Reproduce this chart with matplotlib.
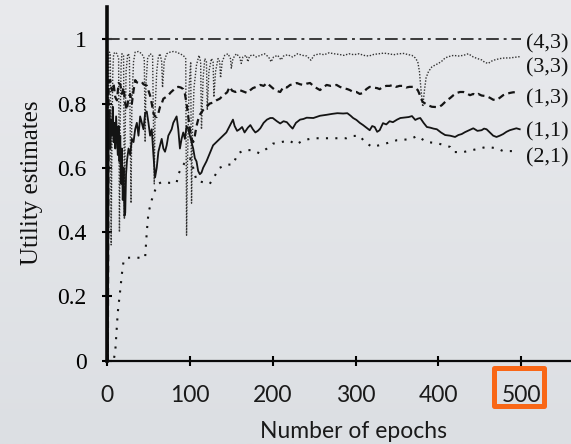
import numpy as np
import matplotlib
matplotlib.use("Agg")
import matplotlib.pyplot as plt
from matplotlib.patches import Rectangle

# ---- data ----
epochs_43 = [0, 500]
u_43 = [1.0, 1.0]

epochs_33 = [0, 1, 2, 3, 4, 5, 6, 7, 8, 10, 12, 14, 15, 16, 17, 18, 20, 21, 22, 23, 25, 27, 29, 30,
             32, 34, 38, 42, 45, 46, 47, 49, 52, 55, 57, 58, 60, 62, 64, 66, 67, 69, 72, 76, 80, 84,
             88, 92, 95, 96, 97, 99, 101, 102, 103, 105, 108, 111, 113, 114, 116, 118, 120, 121, 123,
             126, 128, 129, 131, 134, 136, 137, 139, 142, 146, 149, 150, 152, 156, 160, 162, 164, 168,
             170, 172, 176, 180, 185, 190, 195, 198, 201, 206, 210, 213, 218, 224, 230, 236, 241, 246,
             250, 256, 262, 268, 274, 280, 286, 292, 298, 304, 310, 316, 322, 328, 334, 340, 346, 352,
             358, 364, 368, 372, 375, 377, 379, 381, 383, 385, 388, 392, 396, 400, 404, 408, 412, 418,
             424, 430, 436, 442, 447, 452, 456, 460, 464, 468, 474, 480, 486, 492, 498]
u_33 = [0.0, 0.0, 0.95, 0.96, 0.955, 0.36, 0.70, 0.90, 0.955, 0.96, 0.955, 0.94, 0.40, 0.75, 0.92,
        0.955, 0.95, 0.44, 0.72, 0.90, 0.955, 0.95, 0.49, 0.80, 0.93, 0.96, 0.962, 0.955, 0.94, 0.68,
        0.86, 0.94, 0.955, 0.95, 0.55, 0.78, 0.90, 0.945, 0.955, 0.93, 0.85, 0.93, 0.955, 0.96, 0.962,
        0.96, 0.955, 0.95, 0.94, 0.39, 0.60, 0.85, 0.93, 0.49, 0.70, 0.85, 0.92, 0.95, 0.93, 0.72,
        0.88, 0.94, 0.93, 0.78, 0.90, 0.94, 0.93, 0.82, 0.90, 0.94, 0.93, 0.88, 0.93, 0.95, 0.955,
        0.94, 0.91, 0.94, 0.955, 0.945, 0.925, 0.945, 0.95, 0.93, 0.948, 0.952, 0.945, 0.95, 0.955,
        0.945, 0.93, 0.945, 0.95, 0.936, 0.948, 0.952, 0.945, 0.955, 0.95, 0.948, 0.935, 0.95, 0.955,
        0.952, 0.958, 0.955, 0.953, 0.95, 0.955, 0.952, 0.955, 0.95, 0.948, 0.953, 0.955, 0.957,
        0.955, 0.952, 0.955, 0.956, 0.952, 0.95, 0.942, 0.93, 0.90, 0.84, 0.79, 0.84, 0.88, 0.90,
        0.914, 0.92, 0.925, 0.932, 0.942, 0.946, 0.95, 0.948, 0.95, 0.955, 0.945, 0.94, 0.936, 0.928,
        0.925, 0.932, 0.936, 0.94, 0.942, 0.942, 0.944, 0.946]

epochs_13 = [0, 1, 2, 4, 6, 8, 10, 12, 14, 16, 18, 20, 22, 24, 26, 28, 30, 32, 34, 36, 38, 40, 42,
             44, 46, 48, 50, 52, 54, 56, 58, 60, 62, 64, 66, 68, 71, 74, 77, 80, 83, 86, 89, 92, 94,
             96, 98, 100, 102, 104, 106, 108, 110, 112, 116, 120, 124, 128, 132, 136, 140, 145, 148,
             151, 155, 160, 164, 169, 173, 176, 180, 185, 189, 193, 197, 200, 204, 209, 213, 217, 221,
             225, 229, 233, 237, 241, 245, 249, 253, 257, 261, 265, 270, 277, 281, 285, 290, 293, 297,
             301, 305, 309, 313, 317, 321, 326, 329, 333, 337, 341, 345, 349, 353, 357, 361, 365, 369,
             372, 375, 377, 378, 380, 381, 384, 387, 392, 398, 401, 404, 408, 411, 414, 418, 422, 426,
             430, 434, 438, 442, 445, 448, 452, 458, 462, 466, 470, 474, 478, 482, 486, 490, 496]
u_13 = [0.0, 0.0, 0.87, 0.873, 0.84, 0.86, 0.82, 0.81, 0.864, 0.86, 0.83, 0.85, 0.80, 0.78, 0.82,
        0.83, 0.80, 0.84, 0.873, 0.866, 0.864, 0.867, 0.867, 0.86, 0.858, 0.856, 0.84, 0.825, 0.80,
        0.77, 0.76, 0.758, 0.77, 0.79, 0.80, 0.815, 0.82, 0.826, 0.835, 0.842, 0.85, 0.852, 0.85,
        0.845, 0.83, 0.80, 0.76, 0.72, 0.69, 0.68, 0.70, 0.73, 0.75, 0.765, 0.78, 0.79, 0.80, 0.803,
        0.81, 0.815, 0.825, 0.835, 0.852, 0.84, 0.836, 0.842, 0.838, 0.833, 0.842, 0.848, 0.852,
        0.858, 0.855, 0.864, 0.855, 0.848, 0.84, 0.836, 0.852, 0.85, 0.858, 0.86, 0.864, 0.86, 0.858,
        0.862, 0.864, 0.855, 0.848, 0.842, 0.85, 0.858, 0.855, 0.858, 0.852, 0.848, 0.845, 0.842,
        0.836, 0.836, 0.83, 0.833, 0.845, 0.852, 0.85, 0.848, 0.845, 0.852, 0.855, 0.855, 0.858,
        0.852, 0.855, 0.855, 0.85, 0.852, 0.852, 0.848, 0.842, 0.83, 0.82, 0.81, 0.805, 0.80, 0.795,
        0.79, 0.789, 0.79, 0.795, 0.805, 0.812, 0.817, 0.826, 0.833, 0.836, 0.836, 0.832, 0.826,
        0.83, 0.826, 0.83, 0.825, 0.823, 0.818, 0.812, 0.811, 0.818, 0.826, 0.83, 0.833, 0.835, 0.836]

epochs_11 = [0, 1, 2, 3, 4, 5, 6, 7, 8, 9, 10, 11, 12, 13, 14, 15, 16, 17, 18, 19, 20, 21, 22, 23,
             24, 26, 28, 30, 32, 34, 36, 38, 40, 42, 44, 46, 48, 50, 52, 54, 56, 58, 60, 62, 64, 66,
             68, 70, 72, 74, 76, 78, 80, 82, 84, 86, 88, 90, 92, 94, 96, 98, 100, 102, 104, 106, 108,
             110, 112, 114, 116, 118, 120, 124, 128, 132, 136, 140, 144, 148, 150, 152, 154, 157, 160,
             163, 166, 170, 173, 176, 179, 182, 185, 189, 193, 197, 200, 205, 209, 213, 217, 221, 224,
             228, 233, 237, 241, 249, 257, 265, 272, 278, 285, 290, 294, 297, 301, 305, 309, 313, 317,
             320, 323, 326, 329, 333, 337, 341, 345, 350, 354, 360, 364, 368, 372, 375, 378, 382, 386,
             390, 394, 398, 403, 408, 414, 420, 424, 428, 432, 437, 442, 447, 452, 455, 458, 462, 466,
             470, 474, 478, 482, 486, 490, 494, 498]
u_11 = [0.0, 0.0, 0.70, 0.78, 0.66, 0.75, 0.70, 0.79, 0.68, 0.74, 0.66, 0.76, 0.70, 0.64, 0.73,
        0.62, 0.70, 0.55, 0.66, 0.50, 0.60, 0.45, 0.46, 0.58, 0.62, 0.66, 0.64, 0.69, 0.68, 0.72,
        0.74, 0.70, 0.76, 0.74, 0.72, 0.77, 0.775, 0.74, 0.70, 0.72, 0.64, 0.57, 0.60, 0.65, 0.67,
        0.69, 0.66, 0.65, 0.67, 0.70, 0.71, 0.72, 0.74, 0.75, 0.76, 0.72, 0.66, 0.69, 0.71, 0.69,
        0.73, 0.72, 0.70, 0.68, 0.66, 0.63, 0.62, 0.59, 0.58, 0.585, 0.60, 0.61, 0.62, 0.645, 0.67,
        0.68, 0.69, 0.70, 0.71, 0.73, 0.74, 0.75, 0.73, 0.715, 0.72, 0.727, 0.71, 0.725, 0.733, 0.72,
        0.71, 0.715, 0.723, 0.74, 0.75, 0.755, 0.755, 0.745, 0.738, 0.745, 0.742, 0.73, 0.722, 0.74,
        0.75, 0.752, 0.756, 0.755, 0.762, 0.765, 0.768, 0.77, 0.769, 0.77, 0.762, 0.755, 0.749, 0.74,
        0.733, 0.725, 0.717, 0.73, 0.727, 0.712, 0.717, 0.739, 0.735, 0.745, 0.742, 0.75, 0.755,
        0.757, 0.758, 0.761, 0.749, 0.753, 0.755, 0.74, 0.727, 0.725, 0.722, 0.72, 0.71, 0.702, 0.70,
        0.696, 0.702, 0.705, 0.711, 0.717, 0.723, 0.715, 0.717, 0.722, 0.72, 0.71, 0.70, 0.696, 0.70,
        0.705, 0.712, 0.717, 0.72, 0.723, 0.72]

epochs_21 = [0, 8, 10, 13, 16, 18, 20, 24, 46, 48, 50, 54, 58, 62, 66, 76, 84, 86, 90, 96, 100, 104,
             108, 116, 124, 130, 136, 144, 152, 158, 166, 176, 184, 193, 200, 210, 220, 228, 237, 249,
             270, 289, 297, 305, 311, 320, 333, 350, 366, 374, 386, 398, 414, 418, 430, 446, 458, 470,
             478, 496]
u_21 = [0.0, 0.0, 0.03, 0.15, 0.22, 0.27, 0.31, 0.32, 0.32, 0.40, 0.46, 0.50, 0.53, 0.55, 0.556,
        0.553, 0.553, 0.58, 0.60, 0.625, 0.63, 0.60, 0.56, 0.555, 0.55, 0.575, 0.60, 0.61, 0.61,
        0.645, 0.655, 0.655, 0.645, 0.66, 0.675, 0.68, 0.685, 0.672, 0.686, 0.692, 0.692, 0.692,
        0.699, 0.70, 0.68, 0.665, 0.673, 0.686, 0.689, 0.699, 0.68, 0.677, 0.665, 0.649, 0.649, 0.658,
        0.665, 0.661, 0.652, 0.652]

state_labels = ["(4,3)", "(3,3)", "(1,3)", "(1,1)", "(2,1)"]
label_y = [0.985, 0.911, 0.814, 0.711, 0.630]

x_ticks = [0, 100, 200, 300, 400, 500]
y_ticks = [0, 0.2, 0.4, 0.6, 0.8, 1]
y_ticklabels = ["0", "0.2", "0.4", "0.6", "0.8", "1"]

serif = ["Liberation Serif", "DejaVu Serif"]
sans = ["Lato", "DejaVu Sans"]

fig = plt.figure(figsize=(5.71, 4.44), dpi=100)

# slide background, slightly lighter at the top
bg = fig.add_axes([0, 0, 1, 1], zorder=-10)
grad = np.linspace(0, 1, 256).reshape(-1, 1)
bg.imshow(grad, aspect="auto", extent=[0, 1, 0, 1],
          cmap=matplotlib.colors.LinearSegmentedColormap.from_list("bg", ["#e9eaed", "#dcdfe3"]))
bg.axis("off")

ax = fig.add_axes([0.1874, 0.188, 0.8708, 0.7958])
ax.patch.set_alpha(0)
ax.set_xlim(0, 600)
ax.set_ylim(0, 1.1)

ink = "#141414"
ax.plot(epochs_43, u_43, color="#3a3a3a", lw=1.4, ls=(0, (6.5, 2.5, 1.5, 2.5)))
ax.plot(epochs_33, u_33, color="#333333", lw=1.0, ls=(0, (1, 1.2)))
ax.plot(epochs_13, u_13, color=ink, lw=1.6, ls=(0, (3, 2)))
ax.plot(epochs_11, u_11, color=ink, lw=1.3, ls="-")
ax.plot(epochs_21, u_21, color=ink, lw=1.5, ls=(0, (1, 3.5)))

for lab, yy in zip(state_labels, label_y):
    ax.text(506, yy, lab, ha="left", va="center", fontsize=16, family=serif, color="#111111",
            clip_on=False)

for side in ["top", "right"]:
    ax.spines[side].set_visible(False)
ax.spines["left"].set_linewidth(2.6)
ax.spines["bottom"].set_linewidth(1.6)
ax.spines["left"].set_color("#0a0a0a")
ax.spines["bottom"].set_color("#0a0a0a")

ax.set_xticks(x_ticks)
ax.set_yticks(y_ticks)
ax.set_yticklabels(y_ticklabels)
ax.tick_params(axis="y", direction="inout", length=7, width=1.5, pad=11, labelsize=17)
ax.tick_params(axis="x", direction="inout", length=7, width=1.5, pad=14, labelsize=16.5)
for t in ax.get_yticklabels():
    t.set_family(serif)
for t in ax.get_xticklabels():
    t.set_family(sans)
    t.set_color("#1a1a1a")

fig.text(0.056, 0.589, "Utility estimates", rotation=90, ha="center", va="center",
         fontsize=18, family=serif, color="#111111")
fig.text(0.619, 0.0135, "Number of epochs", ha="center", va="baseline",
         fontsize=16.5, family=sans, color="#1a1a1a")

# orange highlight box around the 500 tick label
fig.patches.append(Rectangle((0.8652, 0.0845), 0.0867, 0.0856, transform=fig.transFigure,
                             fill=False, edgecolor="#f96716", lw=3.6, joinstyle="round"))

fig.savefig("out.png", dpi=100)
